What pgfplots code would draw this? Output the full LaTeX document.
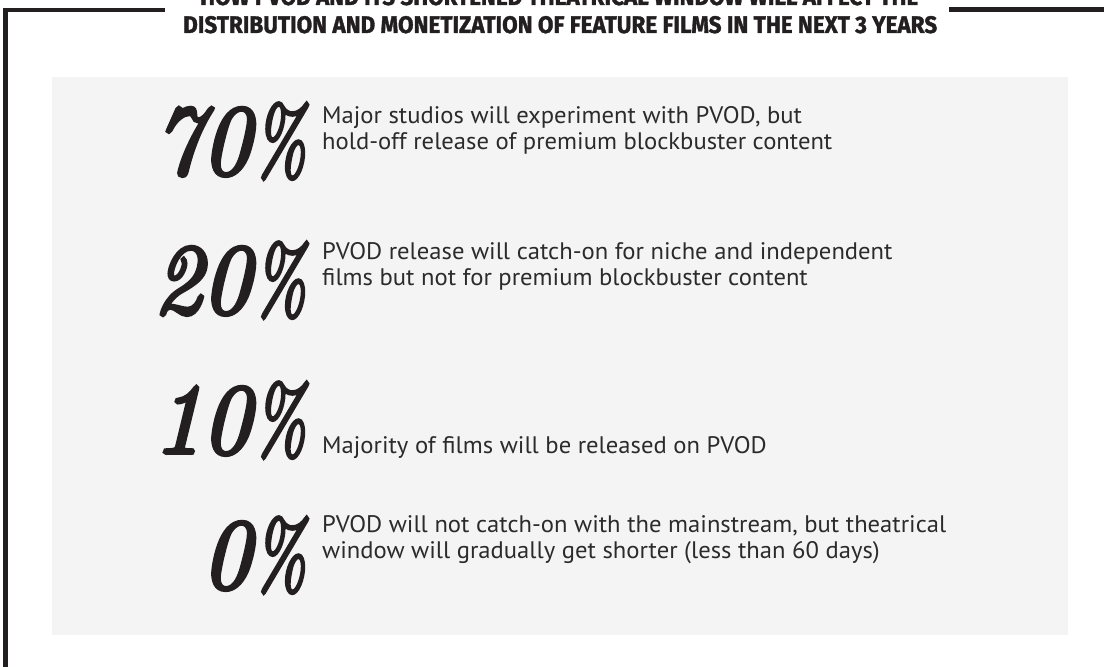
\documentclass[border=0pt]{standalone}
\usepackage{pgfplots}
\pgfplotsset{compat=1.18}
\usepackage{fontspec}
\usepackage{graphicx}
\newfontfamily\bodyfont{PT Sans}[FakeStretch=1.03]
\newfontfamily\titlefont{Fira Sans}[BoldFeatures={FakeBold=1.5}]
\newfontfamily\numfont{Latin Modern Roman}[ItalicFeatures={FakeBold=4}]
\definecolor{ink}{HTML}{231F20}
\definecolor{panel}{HTML}{F4F4F4}
\definecolor{txt}{HTML}{2B2B2B}
\newcommand\desc{\bodyfont\fontsize{24}{25.5}\selectfont}
\newcommand\bignum[1]{{\numfont\itshape\fontsize{100}{100}\selectfont\scalebox{0.97}[1]{#1}\kern3pt\scalebox{0.66}[0.95]{\%}}}
\begin{document}
\begin{tikzpicture}
\begin{axis}[width=1104bp,height=667bp,scale only axis,
  xmin=0,xmax=1104,ymin=0,ymax=667,y dir=reverse,hide axis,clip=false]
\fill[panel] (axis cs:52,77) rectangle (axis cs:1068,635);
\draw[ink,line width=4.5bp,line join=miter] (axis cs:165,10) -- (axis cs:5.5,10) -- (axis cs:5.5,680);
\draw[ink,line width=5bp] (axis cs:949,10) -- (axis cs:1110,10);
\node[anchor=base west,inner sep=0,text=ink] at (axis cs:200,5)
  {\resizebox{718bp}{17bp}{\titlefont\bfseries HOW PVOD AND ITS SHORTENED THEATRICAL WINDOW WILL AFFECT THE}};
\node[anchor=base west,inner sep=0,text=ink] at (axis cs:183,33)
  {\resizebox{754bp}{17bp}{\titlefont\bfseries DISTRIBUTION AND MONETIZATION OF FEATURE FILMS IN THE NEXT 3 YEARS}};
\addplot[only marks,mark=none,point meta=explicit symbolic,
  nodes near coords={\bignum{\pgfplotspointmeta}},
  every node near coord/.style={anchor=base east,inner sep=0pt,text=ink}]
  coordinates {(306,174)[70] (306,313)[20] (306,453)[10] (306,588)[0]};
\node[anchor=base west,inner sep=0,align=left,font=\desc,text=txt] at (axis cs:322,149)
  {Major studios will experiment with PVOD, but\\hold-off release of premium blockbuster content};
\node[anchor=base west,inner sep=0,align=left,font=\desc,text=txt] at (axis cs:322,285)
  {PVOD release will catch-on for niche and independent\\films but not for premium blockbuster content};
\node[anchor=base west,inner sep=0,align=left,font=\desc,text=txt] at (axis cs:322,453)
  {Majority of films will be released on PVOD};
\node[anchor=base west,inner sep=0,align=left,font=\desc,text=txt] at (axis cs:322,558)
  {PVOD will not catch-on with the mainstream, but theatrical\\window will gradually get shorter (less than 60 days)};
\end{axis}
\pgfresetboundingbox
\path (0,0) rectangle (1104bp,667bp);
\end{tikzpicture}
\end{document}
